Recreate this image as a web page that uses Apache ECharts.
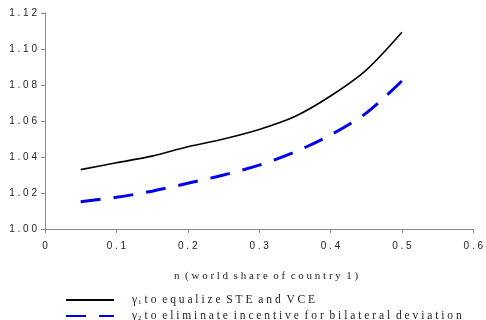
<!DOCTYPE html>
<html>
<head>
<meta charset="utf-8">
<script src="https://cdn.jsdelivr.net/npm/echarts@6/dist/echarts.min.js"></script>
<style>
html, body { margin: 0; padding: 0; background: #fff; }
#chart { width: 486px; height: 320px; }
</style>
</head>
<body>
<div id="chart"></div>
<script>
// n values (world share of country 1)
const nValues = [0.05, 0.1, 0.15, 0.2, 0.25, 0.3, 0.35, 0.4, 0.45, 0.5]
// gamma1: to equalize STE and VCE
const gamma1 = [1.033, 1.0368, 1.0405, 1.0457, 1.0500, 1.0553, 1.0625, 1.0739, 1.0883, 1.1093]
// gamma2: to eliminate incentive for bilateral deviation
const gamma2 = [1.0152, 1.0176, 1.0210, 1.0254, 1.0300, 1.0355, 1.0428, 1.0522, 1.0644, 1.0822]
const xTicks = [0, 0.1, 0.2, 0.3, 0.4, 0.5, 0.6]
const yTicks = [1.00, 1.02, 1.04, 1.06, 1.08, 1.10, 1.12]

const name1 = 'γ1 to equalize STE and VCE'
const name2 = 'γ2 to eliminate incentive for bilateral deviation'

// spread letters out like the original
function spaced(s) {
    return s.split(' ').map(w => w.split('').join(' ')).join('  ')
}

function legendOpt(name, top) {
    return {
        orient: 'vertical',
        left: 60,
        top: top,
        itemWidth: 48,
        itemHeight: 10,
        data: [name],
        itemStyle: { color: 'transparent', borderWidth: 0 },
        textStyle: {
            fontFamily: 'Liberation Serif',
            fontSize: 11.5,
            color: '#222',
            rich: {
                g: { fontFamily: 'Liberation Serif', fontSize: 11.5, color: '#222', padding: [0, 0, 0, 13] },
                s: { fontFamily: 'Liberation Serif', fontSize: 7, color: '#222', verticalAlign: 'bottom', padding: [4, 3, 0, 1] }
            }
        },
        formatter: n => '{g|γ}{s|' + n.charAt(1) + '}' + spaced(n.slice(3))
    }
}

let myChart = echarts.init(document.getElementById('chart'))
myChart.setOption({
    animation: false,
    grid: {
        left: 45,
        right: 8,
        top: 13,
        bottom: 91
    },
    xAxis: {
        type: 'value',
        min: 0,
        max: 0.6,
        interval: 0.1,
        name: spaced('n (world share of country 1)'),
        nameLocation: 'middle',
        nameGap: 42,
        nameTextStyle: {
            fontFamily: 'Liberation Serif',
            fontSize: 11,
            color: '#222',
            padding: [0, 0, 0, 14]
        },
        axisLine: { lineStyle: { color: '#888', width: 1 } },
        axisTick: { show: true, length: 4, lineStyle: { color: '#888' } },
        axisLabel: {
            fontFamily: 'Liberation Sans',
            fontSize: 10,
            color: '#222',
            margin: 12,
            formatter: v => spaced(xTicks.includes(+v.toFixed(1)) ? (v === 0 ? '0' : v.toFixed(1)) : '')
        },
        splitLine: { show: false }
    },
    yAxis: {
        type: 'value',
        min: 1.00,
        max: 1.12,
        interval: 0.02,
        axisLine: { show: true, lineStyle: { color: '#888', width: 1 } },
        axisTick: { show: true, length: 4, lineStyle: { color: '#888' } },
        axisLabel: {
            fontFamily: 'Liberation Sans',
            fontSize: 10,
            color: '#222',
            margin: 8,
            formatter: v => spaced(v.toFixed(2))
        },
        splitLine: { show: false }
    },
    legend: [legendOpt(name1, 289), legendOpt(name2, 305)],
    series: [
        {
            name: name1,
            type: 'line',
            data: nValues.map((n, i) => [n, gamma1[i]]),
            symbol: 'none',
            smooth: 0.3,
            lineStyle: { color: '#000', width: 1.6 },
            itemStyle: { color: '#000' }
        },
        {
            name: name2,
            type: 'line',
            data: nValues.map((n, i) => [n, gamma2[i]]),
            symbol: 'none',
            smooth: 0.3,
            lineStyle: { color: '#0000ee', width: 3, type: [20, 13] },
            itemStyle: { color: '#0000ee' }
        }
    ]
})
</script>
</body>
</html>
